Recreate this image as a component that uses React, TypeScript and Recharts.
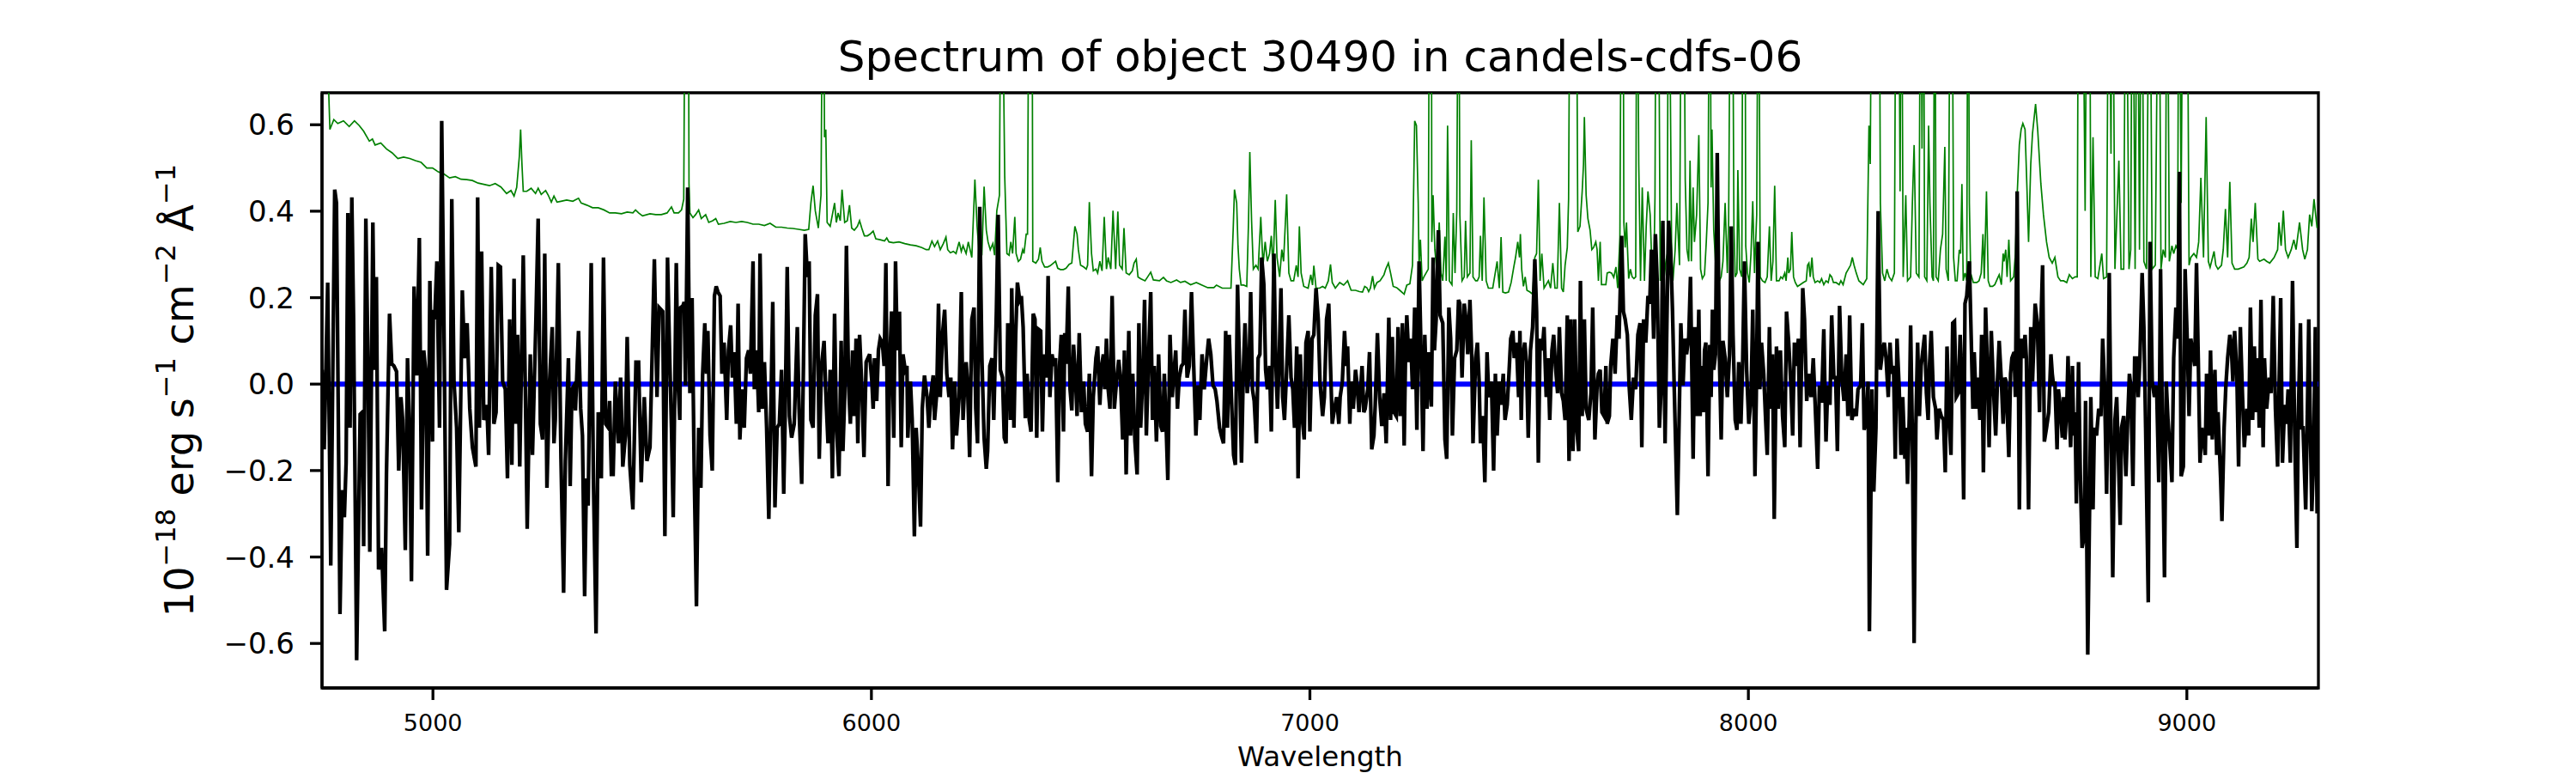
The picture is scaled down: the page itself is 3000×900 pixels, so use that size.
import { LineChart, Line, XAxis, YAxis, ReferenceArea, Label } from 'recharts';

// wavelength (Angstrom), flux (1e-18 erg/s/cm2/A)
const blackPoints: [number, number][] = [
  [4747, 0.033], [4752, -0.151], [4760, 0.235], [4767, -0.42], [4776, 0.45], [4780, 0.419], [4788, -0.532], [4793, -0.245],
  [4798, -0.308], [4802, -0.182], [4806, 0.396], [4811, -0.101], [4815, 0.432], [4819, 0.15], [4826, -0.639], [4834, -0.07],
  [4839, -0.065], [4842, -0.375], [4847, 0.383], [4852, 0.042], [4856, -0.388], [4863, 0.374], [4867, 0.033], [4871, 0.248],
  [4876, -0.429], [4883, -0.379], [4890, -0.572], [4894, -0.209], [4901, 0.163], [4906, 0.047], [4911, 0.042], [4917, 0.029],
  [4922, -0.2], [4927, -0.03], [4931, -0.083], [4937, -0.384], [4942, 0.06], [4947, -0.119], [4951, -0.456], [4957, 0.226],
  [4963, 0.02], [4969, 0.338], [4974, -0.29], [4979, 0.078], [4984, 0.024], [4988, -0.397], [4993, 0.239], [4999, -0.133],
  [5001, 0.172], [5004, 0.15], [5009, 0.284], [5015, -0.101], [5020, 0.609], [5025, 0.15], [5031, -0.476], [5038, -0.37],
  [5043, 0.428], [5048, 0.006], [5054, -0.101], [5059, -0.343], [5067, 0.217], [5072, 0.06], [5078, 0.141], [5084, -0.057],
  [5090, -0.146], [5098, -0.191], [5102, 0.432], [5106, -0.101], [5111, 0.307], [5116, -0.083], [5123, -0.048], [5127, -0.164],
  [5133, 0.271], [5139, -0.092], [5144, -0.065], [5149, 0.275], [5154, 0.271], [5159, 0.006], [5165, -0.012], [5170, -0.218],
  [5175, 0.15], [5180, -0.187], [5185, 0.244], [5188, -0.092], [5193, 0.114], [5198, -0.191], [5206, 0.298], [5211, -0.03],
  [5215, -0.335], [5222, 0.069], [5227, -0.164], [5235, 0.154], [5240, 0.383], [5245, -0.092], [5250, -0.128], [5255, 0.302],
  [5260, -0.24], [5266, 0.006], [5272, 0.132], [5276, -0.137], [5279, -0.083], [5286, 0.28], [5292, -0.173], [5298, -0.483],
  [5302, -0.178], [5309, 0.06], [5313, -0.236], [5317, -0.012], [5322, -0.003], [5325, -0.061], [5332, 0.123], [5337, -0.057],
  [5341, -0.119], [5346, -0.491], [5350, -0.218], [5354, -0.281], [5361, 0.28], [5366, -0.218], [5372, -0.577], [5377, -0.065],
  [5384, -0.218], [5389, 0.293], [5394, -0.092], [5400, -0.101], [5403, -0.039], [5407, -0.209], [5411, -0.209], [5416, 0.006],
  [5423, -0.137], [5428, 0.015], [5433, -0.191], [5439, -0.119], [5443, 0.109], [5449, -0.187], [5456, -0.29], [5463, 0.051],
  [5469, 0.051], [5475, -0.227], [5482, -0.03], [5488, -0.178], [5495, -0.146], [5505, 0.289], [5511, -0.03], [5516, 0.177],
  [5524, 0.168], [5529, -0.352], [5535, 0.293], [5540, 0.06], [5544, -0.101], [5548, -0.308], [5555, 0.28], [5559, 0.006],
  [5563, -0.083], [5565, 0.177], [5570, 0.181], [5573, 0.19], [5576, -0.003], [5581, 0.455], [5586, -0.021], [5591, 0.199],
  [5596, -0.209], [5601, -0.514], [5606, -0.101], [5611, -0.24], [5615, 0.02], [5620, 0.141], [5624, 0.024], [5627, 0.123],
  [5632, -0.119], [5637, -0.2], [5642, 0.204], [5646, 0.226], [5650, 0.213], [5655, 0.204], [5659, 0.024], [5664, 0.096],
  [5670, -0.083], [5674, 0.078], [5679, 0.136], [5683, 0.015], [5687, 0.074], [5692, -0.092], [5696, 0.186], [5700, -0.128],
  [5705, -0.012], [5710, -0.101], [5715, 0.06], [5720, 0.078], [5724, 0.024], [5730, 0.284], [5733, -0.012], [5738, 0.078],
  [5743, -0.065], [5746, 0.302], [5751, -0.057], [5756, 0.051], [5761, -0.101], [5766, -0.312], [5770, -0.092], [5775, 0.19],
  [5780, -0.285], [5785, -0.101], [5790, -0.092], [5795, 0.033], [5800, -0.254], [5803, -0.092], [5808, 0.271], [5813, -0.074],
  [5818, -0.124], [5824, -0.092], [5831, 0.132], [5835, -0.057], [5841, -0.231], [5845, 0.042], [5849, 0.347], [5854, 0.248],
  [5858, 0.284], [5862, -0.083], [5867, -0.101], [5872, 0.159], [5877, 0.208], [5881, -0.173], [5886, 0.042], [5892, 0.1],
  [5896, -0.021], [5901, -0.137], [5906, 0.033], [5911, -0.218], [5916, 0.163], [5920, -0.092], [5926, -0.213], [5931, 0.1],
  [5935, -0.155], [5939, -0.03], [5943, 0.32], [5948, -0.003], [5952, -0.092], [5957, 0.078], [5961, -0.074], [5965, 0.105],
  [5969, -0.137], [5973, 0.114], [5978, -0.003], [5983, -0.169], [5988, 0.051], [5992, 0.06], [5996, 0.069], [6001, 0.006],
  [6004, -0.057], [6007, 0.06], [6012, -0.039], [6016, 0.078], [6020, 0.105], [6025, 0.096], [6029, 0.042], [6033, 0.28],
  [6038, -0.236], [6042, 0.06], [6046, 0.168], [6051, -0.124], [6055, 0.284], [6059, 0.078], [6064, 0.168], [6068, -0.146],
  [6072, 0.069], [6077, 0.033], [6081, 0.042], [6083, -0.124], [6089, 0.006], [6093, -0.083], [6098, -0.352], [6102, -0.101],
  [6106, -0.173], [6112, -0.33], [6116, -0.057], [6121, 0.02], [6127, -0.03], [6131, -0.101], [6136, -0.021], [6141, 0.02],
  [6144, -0.083], [6149, -0.021], [6153, 0.186], [6157, -0.03], [6162, 0.114], [6167, 0.172], [6172, 0.024], [6177, -0.03],
  [6181, 0.015], [6185, -0.151], [6190, 0.006], [6194, -0.119], [6200, -0.03], [6205, 0.213], [6209, -0.083], [6213, 0.006],
  [6216, 0.051], [6219, 0.006], [6224, -0.169], [6229, 0.15], [6234, 0.177], [6238, -0.057], [6242, -0.137], [6247, 0.41],
  [6252, 0.06], [6257, -0.124], [6262, -0.196], [6265, -0.155], [6270, 0.042], [6275, 0.06], [6279, -0.083], [6285, 0.168],
  [6289, 0.392], [6294, 0.033], [6299, 0.015], [6303, -0.124], [6307, -0.137], [6311, 0.141], [6314, 0.078], [6317, -0.083],
  [6320, 0.222], [6325, -0.101], [6329, 0.114], [6333, 0.235], [6338, 0.195], [6342, 0.204], [6346, 0.132], [6351, -0.079],
  [6355, 0.024], [6360, -0.083], [6364, -0.11], [6369, 0.163], [6373, 0.15], [6377, -0.124], [6381, 0.127], [6386, 0.123],
  [6390, -0.11], [6394, 0.069], [6399, 0.015], [6403, 0.25], [6407, -0.03], [6412, 0.069], [6416, 0.042], [6420, 0.06],
  [6425, -0.227], [6429, 0.042], [6433, 0.114], [6438, -0.11], [6441, 0.118], [6444, 0.047], [6449, 0.226], [6453, -0.012],
  [6457, -0.061], [6461, 0.091], [6465, 0.024], [6469, -0.074], [6474, 0.118], [6479, -0.065], [6484, 0.006], [6488, -0.092],
  [6493, -0.11], [6497, 0.024], [6502, -0.213], [6506, -0.03], [6512, 0.06], [6516, 0.087], [6521, -0.048], [6525, 0.042],
  [6529, 0.069], [6532, -0.012], [6536, 0.105], [6540, -0.012], [6544, -0.057], [6549, 0.204], [6554, -0.057], [6559, 0.006],
  [6564, 0.056], [6568, 0.015], [6573, -0.128], [6577, 0.078], [6581, -0.209], [6587, 0.123], [6591, -0.119], [6596, 0.024],
  [6601, -0.133], [6606, -0.209], [6610, 0.141], [6614, -0.101], [6619, 0.02], [6623, 0.195], [6627, -0.119], [6632, 0.06],
  [6637, 0.213], [6641, -0.083], [6645, 0.042], [6650, -0.133], [6655, 0.069], [6660, -0.097], [6664, -0.11], [6668, 0.024],
  [6672, -0.092], [6676, -0.222], [6681, 0.114], [6686, -0.03], [6689, 0.015], [6694, 0.078], [6698, -0.057], [6702, 0.015],
  [6707, 0.042], [6711, 0.047], [6715, 0.172], [6720, 0.015], [6725, 0.042], [6730, 0.213], [6735, 0.042], [6740, -0.119],
  [6745, -0.003], [6749, -0.083], [6754, 0.069], [6759, -0.012], [6764, 0.051], [6769, 0.105], [6774, 0.069], [6779, -0.003],
  [6784, -0.012], [6788, -0.039], [6794, -0.101], [6798, -0.119], [6803, -0.137], [6808, 0.123], [6812, -0.101], [6816, 0.114],
  [6821, -0.03], [6826, -0.164], [6830, -0.187], [6835, 0.23], [6839, 0.06], [6844, -0.182], [6848, 0.024], [6852, 0.141],
  [6857, -0.021], [6861, 0.024], [6865, 0.213], [6869, -0.012], [6873, -0.039], [6878, -0.137], [6882, 0.06], [6886, 0.069],
  [6890, 0.293], [6895, 0.23], [6899, 0.033], [6903, -0.012], [6908, 0.042], [6912, -0.11], [6918, 0.302], [6922, 0.06],
  [6926, -0.057], [6930, 0.06], [6934, 0.222], [6938, -0.03], [6942, -0.083], [6947, 0.033], [6952, 0.159], [6957, 0.015],
  [6961, -0.012], [6965, -0.101], [6970, 0.087], [6973, -0.218], [6978, 0.069], [6983, -0.083], [6987, -0.128], [6991, 0.096],
  [6996, 0.123], [7000, -0.11], [7005, 0.105], [7009, 0.114], [7014, 0.222], [7019, 0.15], [7023, 0.006], [7029, -0.074],
  [7033, -0.03], [7038, 0.15], [7043, 0.186], [7047, 0.042], [7051, -0.092], [7056, -0.057], [7061, -0.03], [7066, -0.092],
  [7069, -0.03], [7074, 0.006], [7079, 0.123], [7083, 0.042], [7086, 0.087], [7091, -0.092], [7094, 0.006], [7099, -0.057],
  [7104, 0.033], [7107, 0.006], [7112, -0.065], [7115, -0.021], [7119, 0.042], [7123, -0.065], [7126, -0.057], [7132, -0.012],
  [7136, 0.074], [7141, -0.151], [7146, -0.119], [7149, -0.048], [7154, 0.118], [7159, -0.03], [7164, -0.097], [7169, -0.021],
  [7174, -0.137], [7180, 0.154], [7184, -0.083], [7188, 0.109], [7192, -0.065], [7197, -0.074], [7201, 0.132], [7206, -0.074],
  [7211, 0.141], [7215, -0.142], [7218, 0.06], [7221, 0.159], [7226, 0.051], [7230, 0.105], [7234, -0.012], [7239, 0.177],
  [7244, -0.106], [7249, 0.284], [7254, 0.051], [7258, -0.155], [7262, 0.114], [7267, -0.057], [7271, 0.074], [7277, -0.052],
  [7281, 0.293], [7284, 0.078], [7288, 0.15], [7293, 0.356], [7297, 0.159], [7303, 0.141], [7308, -0.128], [7312, -0.173],
  [7317, 0.177], [7321, 0.105], [7325, -0.119], [7330, 0.06], [7335, 0.078], [7339, 0.195], [7342, 0.186], [7347, 0.015],
  [7352, 0.186], [7356, 0.15], [7360, 0.069], [7365, 0.195], [7369, 0.069], [7372, -0.137], [7378, 0.06], [7382, 0.096],
  [7386, 0.006], [7389, -0.137], [7394, -0.074], [7399, -0.227], [7404, 0.074], [7408, -0.03], [7414, 0.006], [7419, -0.2],
  [7423, 0.024], [7427, -0.119], [7432, 0.006], [7436, -0.048], [7441, 0.024], [7445, -0.083], [7450, -0.048], [7454, 0.024],
  [7458, 0.105], [7463, 0.123], [7466, 0.06], [7471, 0.096], [7476, -0.03], [7479, 0.123], [7482, -0.083], [7485, 0.06],
  [7490, 0.096], [7494, 0.051], [7498, -0.124], [7503, 0.078], [7508, 0.132], [7513, 0.289], [7517, 0.168], [7521, -0.182],
  [7525, 0.105], [7530, 0.078], [7534, 0.132], [7539, -0.03], [7543, 0.06], [7547, -0.083], [7552, 0.078], [7556, 0.114],
  [7560, 0.042], [7565, -0.021], [7569, 0.132], [7574, -0.021], [7578, -0.039], [7582, -0.083], [7587, 0.159], [7591, -0.178],
  [7595, 0.15], [7600, -0.155], [7604, 0.15], [7609, -0.11], [7613, -0.155], [7617, 0.239], [7621, -0.074], [7626, 0.15],
  [7630, -0.057], [7636, -0.083], [7641, -0.021], [7645, 0.177], [7650, -0.128], [7655, -0.003], [7658, 0.024], [7662, 0.033],
  [7666, -0.065], [7671, -0.074], [7675, 0.042], [7678, -0.092], [7683, -0.074], [7686, 0.042], [7691, 0.105], [7696, 0.024],
  [7701, 0.159], [7705, 0.105], [7711, 0.343], [7715, 0.168], [7719, 0.15], [7724, 0.114], [7728, -0.003], [7733, -0.083],
  [7738, 0.015], [7743, -0.012], [7748, 0.114], [7753, 0.141], [7757, -0.146], [7761, 0.15], [7766, 0.096], [7771, 0.204],
  [7775, 0.186], [7779, 0.311], [7784, 0.105], [7788, 0.347], [7792, 0.239], [7797, -0.101], [7801, -0.012], [7805, 0.378],
  [7810, -0.137], [7814, 0.132], [7818, 0.378], [7823, 0.302], [7827, 0.168], [7831, -0.012], [7838, -0.303], [7843, -0.03],
  [7846, 0.141], [7851, -0.003], [7855, 0.105], [7859, 0.069], [7864, 0.109], [7868, 0.248], [7874, -0.173], [7878, 0.132],
  [7882, -0.074], [7887, 0.172], [7890, -0.074], [7893, 0.042], [7897, -0.065], [7900, 0.078], [7903, 0.096], [7908, -0.213],
  [7912, 0.091], [7915, -0.03], [7918, 0.172], [7921, 0.033], [7925, 0.069], [7929, 0.535], [7934, 0.06], [7938, -0.128],
  [7942, 0.1], [7947, 0.06], [7952, -0.03], [7957, 0.069], [7961, 0.365], [7965, 0.114], [7970, -0.083], [7974, -0.106],
  [7978, 0.051], [7983, -0.092], [7987, 0.051], [7991, 0.284], [7996, 0.033], [8001, -0.092], [8006, -0.03], [8010, 0.172],
  [8015, -0.213], [8018, -0.03], [8022, 0.329], [8026, -0.012], [8030, 0.096], [8035, 0.024], [8039, -0.074], [8043, -0.164],
  [8048, 0.132], [8052, -0.057], [8055, 0.069], [8059, -0.312], [8064, 0.087], [8068, -0.057], [8073, 0.078], [8078, -0.074],
  [8083, -0.146], [8087, 0.168], [8092, 0.096], [8097, -0.003], [8101, -0.119], [8105, 0.096], [8110, 0.042], [8114, 0.105],
  [8118, -0.146], [8124, 0.222], [8128, 0.15], [8133, -0.039], [8138, 0.024], [8143, -0.03], [8148, 0.06], [8152, -0.039],
  [8158, -0.196], [8162, -0.003], [8167, -0.043], [8172, 0.127], [8177, -0.133], [8181, -0.003], [8186, -0.048], [8190, 0.159],
  [8195, 0.015], [8199, 0.015], [8203, -0.155], [8208, 0.181], [8213, 0.015], [8218, -0.039], [8223, 0.069], [8227, -0.074],
  [8231, 0.159], [8236, -0.083], [8241, -0.057], [8246, -0.074], [8250, -0.012], [8256, -0.003], [8260, 0.141], [8264, -0.106],
  [8269, -0.083], [8273, 0.006], [8276, -0.572], [8282, -0.012], [8286, -0.249], [8291, -0.101], [8296, 0.4], [8301, 0.033],
  [8306, 0.078], [8310, 0.096], [8314, 0.06], [8319, -0.03], [8323, 0.096], [8327, 0.024], [8331, 0.042], [8335, -0.173],
  [8339, 0.105], [8344, -0.012], [8348, -0.164], [8352, -0.03], [8357, -0.173], [8360, -0.101], [8363, -0.231], [8367, -0.074],
  [8370, 0.136], [8374, -0.119], [8378, -0.599], [8382, -0.092], [8386, 0.096], [8390, -0.074], [8394, 0.042], [8398, 0.078],
  [8402, 0.114], [8406, -0.021], [8410, -0.083], [8413, 0.042], [8417, 0.123], [8422, -0.03], [8427, -0.057], [8430, -0.128],
  [8435, -0.057], [8440, -0.074], [8445, -0.083], [8449, -0.204], [8453, 0.087], [8458, -0.083], [8462, -0.164], [8466, 0.141],
  [8470, 0.145], [8474, -0.03], [8479, -0.021], [8483, 0.114], [8487, 0.006], [8491, -0.267], [8494, 0.186], [8498, 0.204],
  [8504, 0.284], [8508, 0.114], [8512, -0.057], [8515, 0.074], [8520, -0.057], [8524, 0.015], [8528, -0.083], [8532, 0.114],
  [8536, -0.204], [8541, 0.177], [8545, 0.042], [8549, -0.146], [8554, 0.123], [8559, -0.012], [8564, -0.119], [8568, 0.006],
  [8572, 0.1], [8577, 0.006], [8581, -0.092], [8585, 0.015], [8588, 0.006], [8594, -0.169], [8598, 0.024], [8601, 0.06],
  [8606, 0.074], [8609, -0.03], [8613, 0.446], [8618, -0.29], [8622, 0.105], [8626, 0.06], [8631, 0.114], [8634, 0.06],
  [8639, -0.29], [8644, 0.132], [8648, 0.006], [8654, 0.186], [8659, 0.141], [8664, -0.065], [8667, 0.132], [8671, 0.275],
  [8675, -0.133], [8680, -0.101], [8685, -0.065], [8690, 0.069], [8693, 0.024], [8696, -0.003], [8699, 0.006], [8704, -0.151],
  [8707, -0.012], [8711, -0.048], [8716, -0.124], [8719, -0.03], [8722, -0.128], [8726, -0.057], [8729, 0.065], [8732, -0.065],
  [8735, -0.146], [8739, 0.042], [8742, -0.119], [8745, -0.065], [8748, -0.276], [8753, 0.051], [8757, -0.209], [8761, -0.379],
  [8766, -0.352], [8769, -0.039], [8774, -0.626], [8778, -0.299], [8781, -0.03], [8786, -0.29], [8789, -0.101], [8794, -0.119],
  [8799, -0.057], [8804, -0.074], [8808, 0.105], [8812, 0.006], [8817, -0.254], [8821, 0.024], [8823, 0.257], [8827, -0.119],
  [8831, -0.447], [8836, -0.083], [8840, -0.03], [8844, -0.173], [8848, -0.326], [8851, -0.101], [8856, -0.074], [8861, -0.213],
  [8865, -0.083], [8869, 0.024], [8872, -0.003], [8877, -0.236], [8881, 0.06], [8885, 0.06], [8889, -0.03], [8893, 0.06],
  [8898, 0.257], [8902, 0.132], [8906, -0.101], [8912, -0.505], [8916, 0.329], [8921, 0.006], [8926, -0.03], [8931, -0.003],
  [8936, -0.227], [8940, 0.266], [8944, -0.083], [8949, -0.447], [8953, 0.006], [8957, -0.083], [8962, -0.155], [8966, -0.227],
  [8970, 0.06], [8975, 0.177], [8979, 0.105], [8983, 0.491], [8987, -0.213], [8992, -0.191], [8996, 0.266], [9001, 0.096],
  [9005, -0.074], [9009, 0.105], [9014, 0.069], [9018, 0.042], [9022, 0.28], [9026, 0.06], [9030, -0.182], [9034, -0.101],
  [9039, -0.137], [9042, -0.164], [9045, 0.024], [9050, -0.119], [9054, 0.078], [9058, -0.128], [9064, 0.033], [9068, -0.164],
  [9071, -0.065], [9077, -0.218], [9080, -0.317], [9085, -0.101], [9089, -0.003], [9093, 0.06], [9098, 0.114], [9101, 0.096],
  [9105, 0.006], [9109, 0.123], [9114, 0.024], [9118, -0.191], [9122, 0.132], [9127, -0.03], [9131, -0.146], [9137, -0.057],
  [9141, -0.119], [9145, 0.177], [9150, -0.083], [9154, 0.087], [9158, -0.065], [9162, 0.06], [9165, -0.101], [9169, 0.195],
  [9174, -0.146], [9177, 0.06], [9182, -0.057], [9188, 0.015], [9192, -0.021], [9197, 0.204], [9202, -0.057], [9207, -0.191],
  [9210, -0.021], [9214, 0.199], [9218, -0.182], [9223, -0.048], [9227, -0.092], [9231, -0.012], [9236, -0.182], [9241, 0.239],
  [9246, -0.119], [9251, -0.379], [9254, -0.083], [9259, 0.141], [9262, -0.101], [9265, -0.101], [9271, -0.29], [9275, -0.057],
  [9278, 0.15], [9282, -0.128], [9285, -0.294], [9289, -0.173], [9293, 0.132], [9297, -0.299],
];

// model / contamination curve; 1.2 marks peaks that run off the top of the plot
const greenPoints: [number, number][] = [
  [4752, 1.2], [4760, 0.75], [4765, 0.589], [4774, 0.612], [4783, 0.603], [4796, 0.609], [4809, 0.596], [4821, 0.609],
  [4832, 0.598], [4842, 0.585], [4855, 0.562], [4862, 0.567], [4868, 0.553], [4881, 0.558], [4894, 0.544], [4907, 0.535],
  [4920, 0.522], [4933, 0.525], [4947, 0.522], [4960, 0.517], [4973, 0.513], [4986, 0.5], [4999, 0.5], [5012, 0.491],
  [5025, 0.486], [5038, 0.477], [5051, 0.48], [5064, 0.474], [5077, 0.473], [5090, 0.471], [5103, 0.465], [5116, 0.462],
  [5129, 0.459], [5142, 0.464], [5155, 0.456], [5168, 0.441], [5178, 0.448], [5185, 0.435], [5191, 0.455], [5197, 0.526],
  [5200, 0.589], [5203, 0.509], [5206, 0.446], [5214, 0.446], [5224, 0.453], [5234, 0.441], [5240, 0.453], [5247, 0.439],
  [5257, 0.448], [5263, 0.437], [5270, 0.421], [5276, 0.435], [5283, 0.421], [5292, 0.423], [5305, 0.426], [5319, 0.423],
  [5332, 0.43], [5338, 0.419], [5351, 0.414], [5364, 0.408], [5377, 0.408], [5390, 0.403], [5403, 0.396], [5416, 0.396],
  [5430, 0.394], [5443, 0.398], [5456, 0.396], [5462, 0.403], [5469, 0.396], [5478, 0.389], [5495, 0.394], [5508, 0.392],
  [5521, 0.392], [5534, 0.396], [5544, 0.41], [5550, 0.396], [5560, 0.396], [5567, 0.403], [5572, 0.428], [5576, 1.2],
  [5582, 1.2], [5584, 0.464], [5586, 0.396], [5593, 0.385], [5599, 0.392], [5606, 0.403], [5612, 0.383], [5622, 0.392],
  [5629, 0.374], [5638, 0.378], [5645, 0.383], [5651, 0.37], [5664, 0.372], [5678, 0.376], [5691, 0.374], [5704, 0.376],
  [5717, 0.374], [5730, 0.37], [5743, 0.37], [5756, 0.367], [5769, 0.372], [5782, 0.363], [5795, 0.363], [5808, 0.361],
  [5821, 0.36], [5834, 0.358], [5847, 0.356], [5857, 0.358], [5862, 0.419], [5867, 0.459], [5872, 0.401], [5879, 0.361],
  [5885, 0.437], [5890, 1.2], [5893, 0.571], [5896, 0.589], [5899, 0.374], [5906, 0.365], [5911, 0.392], [5916, 0.419],
  [5920, 0.374], [5924, 0.396], [5929, 0.378], [5933, 0.45], [5939, 0.374], [5945, 0.378], [5950, 0.414], [5955, 0.361],
  [5961, 0.356], [5968, 0.365], [5973, 0.378], [5978, 0.361], [5984, 0.343], [5991, 0.343], [5997, 0.347], [6004, 0.354],
  [6010, 0.336], [6020, 0.334], [6030, 0.331], [6035, 0.338], [6040, 0.329], [6050, 0.327], [6063, 0.329], [6076, 0.325],
  [6089, 0.322], [6102, 0.32], [6115, 0.316], [6125, 0.311], [6131, 0.311], [6138, 0.331], [6144, 0.318], [6151, 0.331],
  [6157, 0.311], [6164, 0.325], [6170, 0.34], [6174, 0.311], [6180, 0.304], [6187, 0.307], [6193, 0.302], [6200, 0.329],
  [6205, 0.307], [6209, 0.32], [6216, 0.302], [6221, 0.329], [6229, 0.293], [6236, 0.473], [6241, 0.365], [6245, 0.311],
  [6252, 0.302], [6257, 0.457], [6262, 0.356], [6266, 0.329], [6271, 0.311], [6277, 0.325], [6281, 0.298], [6286, 0.401],
  [6292, 0.437], [6296, 1.2], [6304, 0.482], [6309, 0.302], [6314, 0.298], [6318, 0.329], [6322, 0.302], [6327, 0.387],
  [6330, 0.302], [6335, 0.284], [6340, 0.289], [6345, 0.311], [6348, 0.302], [6353, 0.347], [6356, 0.347], [6360, 1.2],
  [6366, 1.2], [6368, 0.284], [6375, 0.28], [6381, 0.289], [6385, 0.316], [6389, 0.284], [6395, 0.271], [6402, 0.271],
  [6408, 0.274], [6415, 0.28], [6420, 0.284], [6425, 0.268], [6431, 0.265], [6438, 0.265], [6444, 0.268], [6451, 0.277],
  [6457, 0.28], [6464, 0.365], [6469, 0.347], [6472, 0.311], [6477, 0.275], [6484, 0.271], [6490, 0.266], [6493, 0.275],
  [6497, 0.421], [6502, 0.302], [6506, 0.262], [6512, 0.266], [6516, 0.257], [6521, 0.284], [6526, 0.262], [6531, 0.387],
  [6536, 0.266], [6540, 0.293], [6546, 0.266], [6551, 0.401], [6557, 0.266], [6562, 0.399], [6566, 0.275], [6572, 0.266],
  [6576, 0.361], [6581, 0.257], [6588, 0.253], [6595, 0.262], [6599, 0.28], [6604, 0.289], [6608, 0.248], [6614, 0.244],
  [6624, 0.239], [6630, 0.248], [6637, 0.259], [6643, 0.241], [6657, 0.239], [6666, 0.247], [6673, 0.239], [6683, 0.235],
  [6696, 0.241], [6705, 0.235], [6715, 0.238], [6728, 0.23], [6741, 0.235], [6754, 0.229], [6767, 0.223], [6781, 0.223],
  [6787, 0.229], [6800, 0.222], [6820, 0.222], [6825, 0.356], [6828, 0.45], [6833, 0.419], [6836, 0.32], [6839, 0.266],
  [6843, 0.229], [6849, 0.229], [6856, 0.226], [6860, 0.374], [6863, 0.537], [6867, 0.378], [6871, 0.266], [6877, 0.275],
  [6882, 0.266], [6888, 0.387], [6893, 0.275], [6898, 0.329], [6903, 0.284], [6908, 0.302], [6912, 0.343], [6916, 0.266],
  [6921, 0.426], [6925, 0.293], [6931, 0.248], [6936, 0.311], [6940, 0.284], [6947, 0.439], [6952, 0.257], [6957, 0.239],
  [6963, 0.239], [6969, 0.275], [6973, 0.248], [6976, 0.365], [6980, 0.257], [6986, 0.226], [6996, 0.222], [7002, 0.253],
  [7006, 0.229], [7009, 0.274], [7014, 0.222], [7022, 0.222], [7029, 0.226], [7035, 0.222], [7042, 0.239], [7047, 0.277],
  [7051, 0.235], [7058, 0.222], [7068, 0.235], [7077, 0.229], [7086, 0.239], [7094, 0.217], [7104, 0.217], [7113, 0.214],
  [7120, 0.213], [7125, 0.226], [7130, 0.223], [7134, 0.214], [7138, 0.222], [7143, 0.25], [7147, 0.222], [7153, 0.235],
  [7160, 0.239], [7169, 0.253], [7173, 0.266], [7179, 0.28], [7184, 0.257], [7190, 0.226], [7198, 0.223], [7205, 0.217],
  [7215, 0.208], [7221, 0.229], [7228, 0.232], [7234, 0.275], [7239, 0.609], [7243, 0.598], [7247, 0.419], [7249, 0.275],
  [7252, 0.334], [7256, 0.239], [7260, 0.248], [7265, 0.257], [7270, 0.266], [7273, 1.2], [7277, 1.2], [7278, 0.329],
  [7281, 0.437], [7285, 0.311], [7290, 0.257], [7295, 0.374], [7299, 0.257], [7303, 0.239], [7308, 0.341], [7311, 0.239],
  [7314, 0.598], [7318, 0.239], [7324, 0.23], [7327, 0.396], [7331, 0.257], [7335, 0.401], [7339, 1.2], [7342, 0.392],
  [7347, 0.239], [7352, 0.248], [7355, 0.378], [7359, 0.248], [7365, 0.257], [7368, 0.564], [7372, 0.248], [7378, 0.239],
  [7382, 0.239], [7386, 0.248], [7389, 0.343], [7393, 0.239], [7397, 0.432], [7402, 0.239], [7407, 0.222], [7417, 0.222],
  [7427, 0.284], [7432, 0.222], [7436, 0.34], [7440, 0.213], [7446, 0.211], [7453, 0.213], [7459, 0.235], [7465, 0.271],
  [7469, 0.293], [7474, 0.329], [7478, 0.293], [7480, 0.347], [7483, 0.266], [7487, 0.226], [7491, 0.248], [7495, 0.217],
  [7502, 0.213], [7508, 0.208], [7513, 0.293], [7517, 0.302], [7521, 0.473], [7525, 0.239], [7529, 0.302], [7534, 0.222],
  [7544, 0.239], [7549, 0.222], [7554, 0.28], [7559, 0.222], [7564, 0.222], [7569, 0.419], [7574, 0.222], [7578, 0.213],
  [7582, 0.275], [7587, 0.316], [7590, 0.428], [7594, 1.2], [7603, 1.2], [7607, 1.2], [7611, 0.352], [7616, 0.365],
  [7621, 0.446], [7624, 0.509], [7626, 0.618], [7630, 0.437], [7634, 0.383], [7639, 0.356], [7643, 0.311], [7647, 0.316],
  [7652, 0.329], [7655, 0.311], [7658, 0.239], [7662, 0.329], [7665, 0.23], [7675, 0.23], [7678, 0.257], [7683, 0.259],
  [7688, 0.257], [7693, 0.247], [7698, 0.271], [7702, 0.222], [7707, 0.34], [7711, 1.2], [7714, 1.2], [7716, 0.374],
  [7719, 0.316], [7722, 0.374], [7727, 0.244], [7731, 0.266], [7735, 0.248], [7739, 0.244], [7743, 0.248], [7746, 1.2],
  [7750, 0.509], [7754, 0.239], [7758, 0.455], [7763, 0.239], [7767, 0.365], [7771, 0.446], [7776, 0.392], [7779, 0.302],
  [7784, 0.235], [7787, 0.432], [7790, 1.2], [7794, 1.2], [7799, 0.239], [7803, 0.374], [7807, 0.239], [7812, 0.284],
  [7815, 0.302], [7818, 1.2], [7825, 0.302], [7828, 0.239], [7833, 0.311], [7837, 0.419], [7839, 0.365], [7843, 0.275],
  [7848, 1.2], [7852, 1.2], [7856, 0.473], [7860, 0.311], [7864, 0.284], [7867, 0.517], [7870, 0.284], [7874, 0.455],
  [7877, 0.329], [7882, 0.392], [7887, 0.576], [7891, 0.266], [7895, 0.244], [7900, 0.253], [7904, 0.329], [7908, 0.419],
  [7912, 1.2], [7915, 0.455], [7917, 0.589], [7921, 0.356], [7925, 0.284], [7929, 0.248], [7934, 0.239], [7938, 0.248],
  [7942, 0.284], [7947, 0.419], [7952, 0.257], [7955, 0.374], [7960, 1.2], [7963, 1.2], [7967, 0.365], [7970, 0.248],
  [7974, 0.257], [7976, 0.495], [7980, 0.266], [7985, 0.248], [7988, 1.2], [7992, 1.2], [7994, 0.32], [7998, 0.257],
  [8002, 0.235], [8006, 0.302], [8010, 0.423], [8014, 0.257], [8019, 0.392], [8023, 1.2], [8027, 0.248], [8032, 0.239],
  [8038, 0.235], [8043, 0.248], [8048, 0.365], [8052, 0.239], [8056, 0.284], [8060, 0.459], [8064, 0.239], [8070, 0.239],
  [8074, 0.248], [8078, 0.244], [8083, 0.257], [8086, 0.239], [8090, 0.293], [8092, 0.257], [8096, 0.266], [8099, 0.352],
  [8103, 0.248], [8107, 0.235], [8112, 0.226], [8118, 0.23], [8125, 0.235], [8132, 0.239], [8135, 0.275], [8138, 0.28],
  [8141, 0.248], [8145, 0.293], [8148, 0.248], [8152, 0.235], [8158, 0.239], [8163, 0.235], [8167, 0.244], [8172, 0.23],
  [8177, 0.239], [8182, 0.235], [8186, 0.253], [8190, 0.248], [8194, 0.235], [8200, 0.235], [8207, 0.23], [8211, 0.239],
  [8216, 0.23], [8223, 0.257], [8228, 0.266], [8233, 0.275], [8237, 0.293], [8241, 0.275], [8246, 0.257], [8252, 0.239],
  [8262, 0.23], [8270, 0.244], [8275, 0.598], [8278, 0.509], [8282, 1.2], [8298, 1.2], [8301, 0.419], [8306, 0.257],
  [8311, 0.239], [8316, 0.266], [8321, 0.248], [8327, 0.239], [8333, 0.257], [8337, 1.2], [8342, 1.2], [8346, 0.446],
  [8349, 1.2], [8353, 0.248], [8359, 0.437], [8363, 0.239], [8370, 0.248], [8374, 0.419], [8378, 0.553], [8383, 0.257],
  [8389, 0.248], [8393, 1.2], [8396, 0.545], [8399, 1.2], [8402, 0.248], [8407, 0.239], [8411, 0.598], [8414, 0.419],
  [8419, 0.248], [8422, 0.239], [8425, 1.2], [8428, 0.248], [8433, 0.239], [8438, 0.311], [8443, 0.347], [8448, 0.549],
  [8451, 0.266], [8456, 0.239], [8461, 1.2], [8464, 1.2], [8468, 0.293], [8472, 0.239], [8476, 0.239], [8481, 0.311],
  [8484, 0.302], [8487, 0.463], [8490, 0.239], [8494, 0.257], [8498, 0.239], [8501, 1.2], [8504, 0.419], [8507, 0.257],
  [8513, 0.235], [8521, 0.235], [8526, 0.239], [8531, 0.257], [8535, 0.347], [8538, 0.244], [8543, 0.446], [8547, 0.239],
  [8551, 0.226], [8557, 0.226], [8562, 0.23], [8568, 0.244], [8572, 0.253], [8577, 0.23], [8581, 0.302], [8583, 0.284],
  [8587, 0.311], [8590, 0.248], [8594, 0.334], [8598, 0.239], [8605, 0.248], [8609, 0.302], [8613, 0.437], [8618, 0.554],
  [8622, 0.589], [8626, 0.603], [8631, 0.589], [8635, 0.464], [8639, 0.329], [8644, 0.509], [8648, 0.58], [8655, 0.648],
  [8660, 0.585], [8667, 0.464], [8673, 0.392], [8680, 0.329], [8686, 0.293], [8693, 0.28], [8699, 0.293], [8706, 0.248],
  [8712, 0.239], [8719, 0.239], [8726, 0.235], [8732, 0.253], [8739, 0.244], [8745, 0.248], [8750, 0.248], [8753, 1.2],
  [8761, 1.2], [8768, 0.401], [8773, 1.2], [8778, 1.2], [8781, 0.248], [8786, 0.571], [8791, 0.248], [8797, 0.244],
  [8806, 0.302], [8810, 0.244], [8817, 0.248], [8822, 1.2], [8827, 0.533], [8830, 1.2], [8836, 0.266], [8845, 0.517],
  [8850, 0.266], [8856, 0.266], [8861, 1.2], [8868, 0.266], [8872, 0.311], [8876, 1.2], [8882, 0.266], [8887, 1.2],
  [8892, 0.311], [8897, 1.2], [8902, 0.284], [8908, 0.266], [8915, 1.2], [8921, 0.266], [8928, 0.275], [8936, 1.2],
  [8941, 0.266], [8946, 0.311], [8951, 0.293], [8955, 1.2], [8960, 0.284], [8966, 0.32], [8970, 0.302], [8975, 0.32],
  [8979, 0.311], [8982, 1.2], [8987, 0.419], [8992, 1.2], [9000, 1.2], [9005, 0.275], [9009, 0.293], [9016, 0.302],
  [9022, 0.293], [9027, 0.329], [9032, 0.477], [9038, 0.293], [9044, 0.618], [9049, 0.284], [9053, 0.27], [9062, 0.307],
  [9066, 0.275], [9071, 0.266], [9079, 0.275], [9083, 0.311], [9088, 0.405], [9093, 0.293], [9098, 0.468], [9103, 0.28],
  [9109, 0.266], [9117, 0.266], [9130, 0.271], [9137, 0.28], [9142, 0.293], [9147, 0.383], [9151, 0.329], [9156, 0.419],
  [9162, 0.289], [9166, 0.284], [9176, 0.289], [9182, 0.284], [9189, 0.28], [9199, 0.293], [9207, 0.311], [9210, 0.374],
  [9215, 0.32], [9220, 0.401], [9225, 0.311], [9231, 0.293], [9238, 0.311], [9244, 0.334], [9249, 0.311], [9257, 0.374],
  [9264, 0.311], [9269, 0.289], [9275, 0.311], [9280, 0.392], [9285, 0.365], [9290, 0.428], [9297, 0.361],
];

const bluePoints: [number, number][] = [[4747, 0], [9300, 0]];

const xDomain = [4747, 9300];
const yDomain = [-0.703, 0.674];
const xTicks = [5000, 6000, 7000, 8000, 9000];
const yTicks = [-0.6, -0.4, -0.2, 0, 0.2, 0.4, 0.6];

const toRows = (pts: [number, number][]) => pts.map(([w, f]) => ({ w, f }));
const blackData = toRows(blackPoints);
const greenData = toRows(greenPoints);
const blueData = toRows(bluePoints);

const FONT = '"DejaVu Sans", Verdana, sans-serif';
const W = 3000;
const H = 900;

const fmtY = (v: number) => (v < 0 ? '\u2212' : '') + Math.abs(v).toFixed(1);

const XLabel = (props: any) => {
  const vb = props.viewBox || { x: 375, y: 801, width: 2325 };
  return (
    <text x={vb.x + vb.width / 2} y={vb.y + 91} textAnchor="middle" fontSize={32.5} fontFamily={FONT} fill="#000">
      Wavelength
    </text>
  );
};

const YLabel = (props: any) => {
  const vb = props.viewBox || { x: 255, y: 108, width: 120, height: 693 };
  const cx = 225;
  const cy = vb.y + vb.height / 2;
  const sup = 32;
  const up = -21;
  return (
    <text
      x={cx}
      y={cy}
      transform={`rotate(-90, ${cx}, ${cy})`}
      textAnchor="middle"
      fontSize={46}
      fontFamily={FONT}
      fill="#000"
      style={{ whiteSpace: 'pre' }}
    >
      10
      <tspan fontSize={sup} dy={up}>{'\u221218'}</tspan>
      <tspan dy={-up}>{' erg s'}</tspan>
      <tspan fontSize={sup} dy={up}>{'\u22121'}</tspan>
      <tspan dy={-up}>{' cm'}</tspan>
      <tspan fontSize={sup} dy={up}>{'\u22122'}</tspan>
      <tspan dy={-up}>{' \u00c5'}</tspan>
      <tspan fontSize={sup} dy={up}>{'\u22121'}</tspan>
    </text>
  );
};

export default function App() {
  return (
    <div style={{ position: 'relative', width: W, height: H, background: '#fff', fontFamily: FONT }}>
      <style>{'body{margin:0;}'}</style>
      <svg width={W} height={120} style={{ position: 'absolute', left: 0, top: 0 }}>
        <text x={1537.5} y={83} textAnchor="middle" fontSize={50} fontFamily={FONT} fill="#000">
          Spectrum of object 30490 in candels-cdfs-06
        </text>
      </svg>
      <div style={{ position: 'absolute', left: 0, top: 0 }}>
        <LineChart width={W} height={H} margin={{ top: 108, right: 300, bottom: 39, left: 255 }}>
          <XAxis
            type="number"
            dataKey="w"
            domain={xDomain}
            allowDataOverflow
            ticks={xTicks}
            height={60}
            tickSize={14}
            tickMargin={17}
            tick={{ fontSize: 27, fill: '#000', fontFamily: FONT }}
            axisLine={{ stroke: '#000', strokeWidth: 3.3 }}
            tickLine={{ stroke: '#000', strokeWidth: 3.3 }}
          >
            <Label content={XLabel} />
          </XAxis>
          <YAxis
            type="number"
            domain={yDomain}
            allowDataOverflow
            ticks={yTicks}
            width={120}
            tickSize={14}
            tickMargin={18}
            tickFormatter={fmtY}
            tick={{ fontSize: 34, fill: '#000', fontFamily: FONT }}
            axisLine={{ stroke: '#000', strokeWidth: 3.3 }}
            tickLine={{ stroke: '#000', strokeWidth: 3.3 }}
          >
            <Label content={YLabel} />
          </YAxis>
          <Line data={greenData} dataKey="f" type="linear" stroke="#008000" strokeWidth={1.7} dot={false} activeDot={false} isAnimationActive={false} />
          <Line data={blueData} dataKey="f" type="linear" stroke="#0000ff" strokeWidth={6} dot={false} activeDot={false} isAnimationActive={false} />
          <Line data={blackData} dataKey="f" type="linear" stroke="#000000" strokeWidth={4.3} dot={false} activeDot={false} isAnimationActive={false} />
          <ReferenceArea
            x1={xDomain[0]}
            x2={xDomain[1]}
            y1={yDomain[0]}
            y2={yDomain[1]}
            fill="none"
            fillOpacity={0}
            stroke="#000"
            strokeWidth={3.3}
            ifOverflow="visible"
          />
        </LineChart>
      </div>
    </div>
  );
}
